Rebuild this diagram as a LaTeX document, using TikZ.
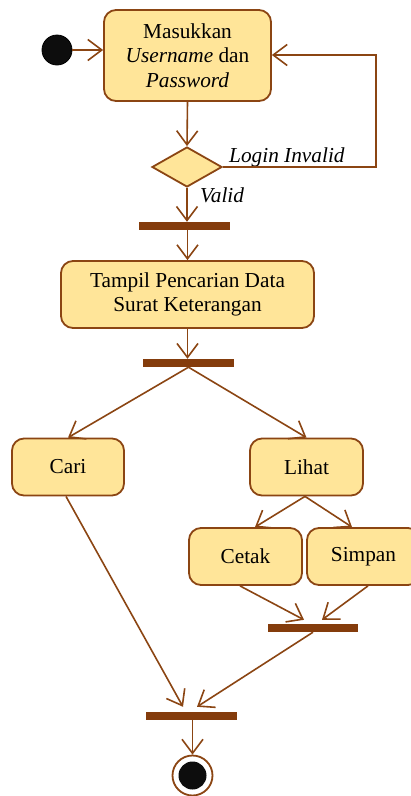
\documentclass[tikz,border=0pt]{standalone}
\usepackage{fontspec}
\setmainfont{Liberation Serif}
\usetikzlibrary{arrows.meta,shapes.geometric}
\definecolor{edgec}{RGB}{139,69,19}
\definecolor{barc}{RGB}{132,60,12}
\definecolor{fillc}{RGB}{255,229,153}
\begin{document}
\begin{tikzpicture}[x=1pt,y=-1pt,
 act/.style={draw=edgec,fill=fillc,line width=1.8pt,rounded corners=12pt,align=center,inner sep=0pt,font=\fontsize{21.3}{24.5}\selectfont},
 bar/.style={fill=barc,draw=none,minimum width=91pt,minimum height=8pt,inner sep=0pt},
 flow/.style={draw=edgec,line width=1.6pt,-{Straight Barb[length=14pt,width=21pt,line width=1.6pt]}},
 lbl/.style={font=\fontsize{21.3}{24.5}\selectfont\itshape,inner sep=0pt}]
\useasboundingbox (0,0) rectangle (411,796);
% nodes
\node[circle,fill=black!95,draw=black,line width=0.8pt,minimum size=30pt,inner sep=0pt] (start) at (57,50) {};
\node[act,minimum width=167pt,minimum height=91pt] (m) at (187.5,55.5) {Masukkan\\\textit{Username} dan\\\textit{Password}};
\node[diamond,draw=edgec,fill=fillc,line width=1.8pt,minimum width=70pt,minimum height=40pt,inner sep=0pt] (d) at (187,167) {};
\node[bar] (b1) at (184.5,226) {};
\node[act,minimum width=253pt,minimum height=67pt] (t) at (187.5,294.5) {Tampil Pencarian Data\\Surat Keterangan};
\node[bar] (b2) at (188.5,363) {};
\node[act,minimum width=112pt,minimum height=57pt] (cari) at (68,467) {Cari};
\node[act,minimum width=113pt,minimum height=57pt] (lihat) at (306.5,467) {Lihat};
\node[act,minimum width=113pt,minimum height=57pt] (cetak) at (245.5,556.5) {Cetak};
\node[act,minimum width=113pt,minimum height=57pt] (simpan) at (363.5,556.5) {Simpan};
\node[bar,minimum width=90pt] (b3) at (313,628) {};
\node[bar] (b4) at (191.5,716) {};
\node[circle,draw=edgec,fill=white,line width=1.8pt,minimum size=40pt,inner sep=0pt] (end) at (192.5,775.5) {};
\node[circle,fill=black!95,minimum size=28pt,inner sep=0pt] (endin) at (end.center) {};
\coordinate (lp) at (376,55);
% labels
\node[lbl,anchor=base west] (li) at (229,162) {Login Invalid};
\node[lbl,anchor=base west] (va) at (200,202) {Valid};
% connectors
\draw[flow] (start.east) -- (start.east -| m.west);
\draw[flow] (m.south) -- (d.north);
\draw[flow] (d.east) -| (lp) -- (lp -| m.east);
\draw[flow] (d.south) -- (d.south |- b1.north);
\draw[flow] (t.north |- b1.south) -- (t.north);
\draw[flow] (t.south) -- (t.south |- b2.north);
\draw[flow] (b2.south) -- (cari.north);
\draw[flow] (b2.south) -- (lihat.north);
\draw[flow] ([xshift=-1.5pt]lihat.south) -- ([xshift=9.5pt]cetak.north);
\draw[flow] ([xshift=-1.5pt]lihat.south) -- ([xshift=-11.5pt]simpan.north);
\draw[flow] ([xshift=-5.5pt]cetak.south) -- ([xshift=-9pt,yshift=4pt]b3.north);
\draw[flow] ([xshift=4.5pt]simpan.south) -- ([xshift=9pt,yshift=4pt]b3.north);
\draw[flow] ([xshift=-2pt]cari.south) -- ([xshift=-8.5pt,yshift=5pt]b4.north);
\draw[flow] (b3.south) -- ([xshift=5.5pt,yshift=5pt]b4.north);
\draw[flow] (end.north |- b4.south) -- (end.north);
\end{tikzpicture}
\end{document}
